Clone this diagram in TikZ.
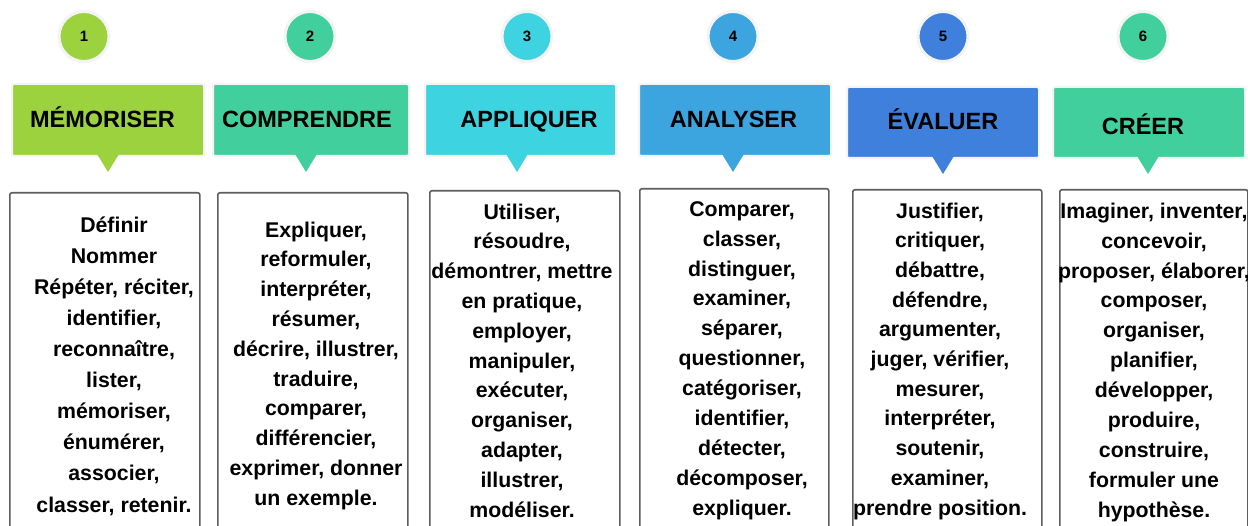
\documentclass[tikz,border=0pt]{standalone}
\usepackage{fontspec}
\setmainfont{Liberation Sans}
\definecolor{c1}{HTML}{9BD23E}
\definecolor{c2}{HTML}{42CF9E}
\definecolor{c3}{HTML}{3DD3E0}
\definecolor{c4}{HTML}{3CA5DF}
\definecolor{c5}{HTML}{3F80DC}
\definecolor{c6}{HTML}{42CF9E}
\definecolor{bordergray}{HTML}{5E5E5E}
\definecolor{halo}{HTML}{F4F4F4}
\begin{document}
\begin{tikzpicture}[x=1pt,y=-1pt,
  num/.style={circle, minimum size=50pt, inner sep=0pt, draw=halo, line width=3pt,
    font=\bfseries\fontsize{15}{15}\selectfont},
  head/.style={rectangle, rounded corners=2pt, minimum height=72pt, inner sep=0pt,
    draw=halo, line width=2pt, anchor=north west},
  headtxt/.style={inner sep=0pt, anchor=base, font=\bfseries\fontsize{23.5}{24}\selectfont},
  txtbox/.style={rectangle, rounded corners=2pt, draw=bordergray, line width=1.6pt,
    minimum height=400pt, inner sep=0pt, anchor=north west},
  words/.style={align=center, inner sep=0pt, anchor=north}
]
\useasboundingbox (0,0) rectangle (1248,526);
\fill[white] (0,0) rectangle (1248,526);
\clip (0,0) rectangle (1248,526);

% number circles
\node[num, fill=c1] (n1) at (84,36.5) {1};
\node[num, fill=c2] (n2) at (310,36.5) {2};
\node[num, fill=c3] (n3) at (527,36.5) {3};
\node[num, fill=c4] (n4) at (733,36.5) {4};
\node[num, fill=c5] (n5) at (943,36.5) {5};
\node[num, fill=c6] (n6) at (1143,36.5) {6};

% header boxes
\node[head, fill=c1, minimum width=192pt] (h1) at (11,83) {};
\node[head, fill=c2, minimum width=196pt] (h2) at (212,83) {};
\node[head, fill=c3, minimum width=191pt] (h3) at (424,83) {};
\node[head, fill=c4, minimum width=192pt] (h4) at (638,83) {};
\node[head, fill=c5, minimum width=192pt, minimum height=71pt] (h5) at (846,86) {};
\node[head, fill=c6, minimum width=192pt, minimum height=71pt] (h6) at (1052,86) {};

% pointers
\fill[c1] (97,154) -- (119,154) -- (108,172) -- cycle;
\fill[c2] (295,154) -- (317,154) -- (306,172) -- cycle;
\fill[c3] (506,154) -- (528,154) -- (517,172) -- cycle;
\fill[c4] (722,154) -- (744,154) -- (733,172) -- cycle;
\fill[c5] (932,156) -- (954,156) -- (943,174) -- cycle;
\fill[c6] (1137,156) -- (1159,156) -- (1148,174) -- cycle;

% header texts
\node[headtxt] (t1) at (102.5,128) {MÉMORISER};
\node[headtxt] (t2) at (307,128) {COMPRENDRE};
\node[headtxt] (t3) at (529,128) {APPLIQUER};
\node[headtxt] (t4) at (733.5,128) {ANALYSER};
\node[headtxt] (t5) at (943,130) {ÉVALUER};
\node[headtxt] (t6) at (1143,135) {CRÉER};

% text boxes
\node[txtbox, minimum width=190pt] (b1) at (9,192) {};
\node[txtbox, minimum width=190pt] (b2) at (217,192) {};
\node[txtbox, minimum width=190pt] (b3) at (429,190) {};
\node[txtbox, minimum width=189pt] (b4) at (639,188) {};
\node[txtbox, minimum width=189pt] (b5) at (852,189) {};
\node[txtbox, minimum width=188pt] (b6) at (1059,189) {};

% word lists
\node[words, font=\bfseries\fontsize{21.3}{31.1}\selectfont] (w1) at (114,210.2)
  {\strut Définir\\Nommer\\Répéter, réciter,\\identifier,\\reconnaître,\\lister,\\mémoriser,\\énumérer,\\associer,\\classer, retenir.};
\node[words, font=\bfseries\fontsize{21.3}{29.8}\selectfont] (w2) at (316,216.1)
  {\strut Expliquer,\\reformuler,\\interpréter,\\résumer,\\décrire, illustrer,\\traduire,\\comparer,\\différencier,\\exprimer, donner\\un exemple.};
\node[words, font=\bfseries\fontsize{21.3}{29.8}\selectfont] (w3) at (522,198.1)
  {\strut Utiliser,\\résoudre,\\démontrer, mettre\\en pratique,\\employer,\\manipuler,\\exécuter,\\organiser,\\adapter,\\illustrer,\\modéliser.};
\node[words, font=\bfseries\fontsize{21.3}{29.9}\selectfont] (w4) at (742,195.1)
  {\strut Comparer,\\classer,\\distinguer,\\examiner,\\séparer,\\questionner,\\catégoriser,\\identifier,\\détecter,\\décomposer,\\expliquer.};
\node[words, font=\bfseries\fontsize{21.3}{29.7}\selectfont] (w5) at (940,197.1)
  {\strut Justifier,\\critiquer,\\débattre,\\défendre,\\argumenter,\\juger, vérifier,\\mesurer,\\interpréter,\\soutenir,\\examiner,\\prendre position.};
\node[words, font=\bfseries\fontsize{21.3}{29.9}\selectfont] (w6) at (1154,197.1)
  {\strut Imaginer, inventer,\\concevoir,\\proposer, élaborer,\\composer,\\organiser,\\planifier,\\développer,\\produire,\\construire,\\formuler une\\hypothèse.};
\end{tikzpicture}
\end{document}
